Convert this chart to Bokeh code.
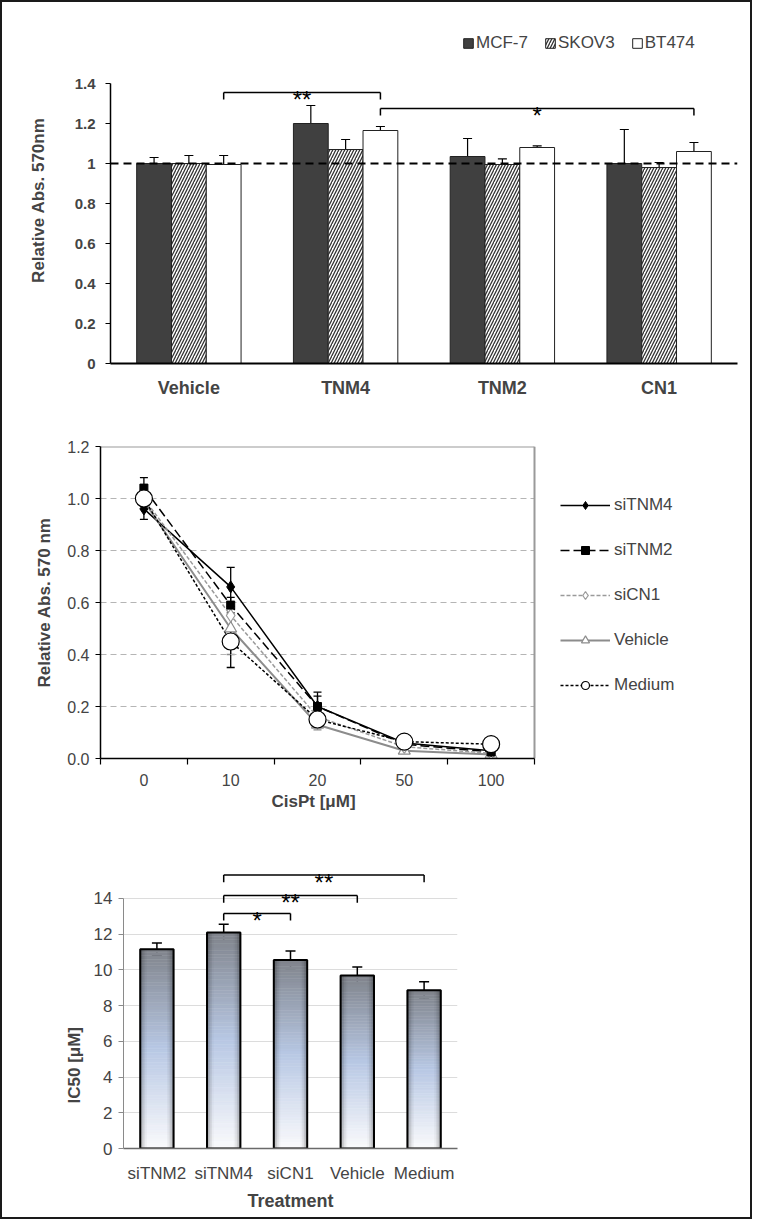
from bokeh.plotting import figure
from bokeh.models import (ColumnDataSource, FactorRange, Range1d, FixedTicker, Whisker, TeeHead,
                          Span, Label, Legend, LegendItem, NumeralTickFormatter, CustomJSTickFormatter, Title)
from bokeh.transform import dodge
from bokeh.embed import file_html
from bokeh.resources import INLINE
from bokeh.core.properties import value

FONT = "Liberation Sans"

# ---------------- Panel A data ----------------
a_groups = ["Vehicle", "TNM4", "TNM2", "CN1"]
a_series = ["MCF-7", "SKOV3", "BT474"]
a_mcf7 = [1.00, 1.20, 1.035, 1.00]
a_mcf7_err = [0.03, 0.09, 0.09, 0.17]
a_skov3 = [1.00, 1.07, 0.995, 0.98]
a_skov3_err = [0.04, 0.05, 0.028, 0.025]
a_bt474 = [0.995, 1.165, 1.08, 1.06]
a_bt474_err = [0.045, 0.02, 0.008, 0.045]
a_yticks = [0, 0.2, 0.4, 0.6, 0.8, 1.0, 1.2, 1.4]
a_sig_from = ["Vehicle", "TNM4"]
a_sig_to = ["TNM4", "CN1"]
a_sig_height = [1.355, 1.275]
a_sig_text = ["**", "*"]

# ---------------- Panel B data ----------------
b_conc = ["0", "10", "20", "50", "100"]
b_series = ["siTNM4", "siTNM2", "siCN1", "Vehicle", "Medium"]
b_sitnm4 = [0.96, 0.66, 0.20, 0.06, 0.03]
b_sitnm4_err = [0.04, 0.075, 0.055, 0.01, 0.01]
b_sitnm2 = [1.04, 0.59, 0.20, 0.055, 0.025]
b_sitnm2_err = [0.04, 0.03, 0.04, 0.01, 0.01]
b_sicn1 = [1.00, 0.55, 0.16, 0.045, 0.02]
b_sicn1_err = [0.03, 0.05, 0.03, 0.01, 0.01]
b_vehicle = [0.99, 0.50, 0.13, 0.03, 0.015]
b_vehicle_err = [0.03, 0.10, 0.02, 0.01, 0.01]
b_medium = [1.00, 0.45, 0.15, 0.065, 0.055]
b_medium_err = [0.03, 0.10, 0.03, 0.01, 0.01]
b_yticks = [0, 0.2, 0.4, 0.6, 0.8, 1.0, 1.2]

# ---------------- Panel C data ----------------
c_treat = ["siTNM2", "siTNM4", "siCN1", "Vehicle", "Medium"]
c_ic50 = [11.15, 12.08, 10.55, 9.68, 8.85]
c_err = [0.35, 0.47, 0.50, 0.47, 0.48]
c_yticks = [0, 2, 4, 6, 8, 10, 12, 14]
c_sig_from = ["siTNM4", "siTNM4", "siTNM4"]
c_sig_to = ["siCN1", "Vehicle", "Medium"]
c_sig_height = [13.15, 14.15, 15.3]
c_sig_text = ["*", "**", "**"]

W = 752
BORDER = "2px solid #1a1a1a"


def style_common(p):
    p.xgrid.visible = False
    p.ygrid.visible = False
    p.outline_line_color = None
    p.background_fill_color = "white"
    p.border_fill_color = "white"


# =============== Panel A ===============
pA = figure(width=W, height=400, x_range=FactorRange(*a_groups), y_range=Range1d(0, 1.68),
            output_backend="svg", toolbar_location=None,
            min_border_left=108, min_border_right=17, min_border_top=25, min_border_bottom=39,
            styles={"border-left": BORDER, "border-right": BORDER, "border-top": BORDER})
style_common(pA)

srcA = ColumnDataSource(dict(
    grp=a_groups,
    mcf7=a_mcf7, mcf7_up=[v + e for v, e in zip(a_mcf7, a_mcf7_err)], mcf7_lo=[v - e for v, e in zip(a_mcf7, a_mcf7_err)],
    skov3=a_skov3, skov3_up=[v + e for v, e in zip(a_skov3, a_skov3_err)], skov3_lo=[v - e for v, e in zip(a_skov3, a_skov3_err)],
    bt474=a_bt474, bt474_up=[v + e for v, e in zip(a_bt474, a_bt474_err)], bt474_lo=[v - e for v, e in zip(a_bt474, a_bt474_err)],
))
OFF = 0.222
bw = 0.222
rA1 = pA.vbar(x=dodge("grp", -OFF, range=pA.x_range), top="mcf7", width=bw, source=srcA,
              fill_color="#404040", line_color="#222222", line_width=1)
rA2 = pA.vbar(x=dodge("grp", 0, range=pA.x_range), top="skov3", width=bw, source=srcA,
              fill_color="white", hatch_pattern="/", hatch_color="#333333", hatch_scale=6, hatch_weight=1.3,
              line_color="#222222", line_width=1)
rA3 = pA.vbar(x=dodge("grp", OFF, range=pA.x_range), top="bt474", width=bw, source=srcA,
              fill_color="white", line_color="#222222", line_width=1)
for off, key in [(-OFF, "mcf7"), (0, "skov3"), (OFF, "bt474")]:
    pA.add_layout(Whisker(source=srcA, base=dodge("grp", off, range=pA.x_range),
                          upper=key + "_up", lower=key + "_lo", line_color="black", line_width=1.2,
                          upper_head=TeeHead(size=9, line_color="black", line_width=1.2),
                          lower_head=TeeHead(size=9, line_color="black", line_width=1.2)))

pA.add_layout(Span(location=1.0, dimension="width", line_color="black", line_width=2, line_dash="8 5"))

# significance brackets (ends at BT474 bars)
ax0 = [a_groups.index(g) + 0.5 + OFF for g in a_sig_from]
ax1 = [a_groups.index(g) + 0.5 + OFF for g in a_sig_to]
ah = a_sig_height
ahl = [h - 0.035 for h in ah]
pA.segment(x0=ax0, y0=ah, x1=ax1, y1=ah, line_color="black", line_width=1.5)
pA.segment(x0=ax0, y0=ah, x1=ax0, y1=ahl, line_color="black", line_width=1.5)
pA.segment(x0=ax1, y0=ah, x1=ax1, y1=ahl, line_color="black", line_width=1.5)
pA.text(x=[(a + b) / 2 for a, b in zip(ax0, ax1)], y=ah, text=a_sig_text, text_font=value(FONT),
        text_font_size="24px", text_align="center", text_baseline="alphabetic", y_offset=7)

legA = Legend(items=[LegendItem(label=a_series[0], renderers=[rA1]),
                     LegendItem(label=a_series[1], renderers=[rA2]),
                     LegendItem(label=a_series[2], renderers=[rA3])],
              orientation="horizontal", location=(352, 310), padding=0, margin=0,
              glyph_width=12, glyph_height=12, label_standoff=2, spacing=16,
              label_text_font=FONT, label_text_font_size="17px", label_height=20,
              border_line_color=None, background_fill_alpha=0)
pA.add_layout(legA)

pA.yaxis.ticker = FixedTicker(ticks=a_yticks)
pA.yaxis.formatter = NumeralTickFormatter(format="0.[0]")
pA.yaxis.bounds = (0, 1.4)
pA.yaxis.axis_line_width = 1.5
pA.yaxis.major_tick_out = 5
pA.yaxis.major_tick_in = 0
pA.yaxis.minor_tick_line_color = None
pA.yaxis.major_label_text_font = FONT
pA.yaxis.major_label_text_font_style = "bold"
pA.yaxis.major_label_text_font_size = "15px"
pA.yaxis.major_label_standoff = 10
pA.yaxis.axis_label = "Relative  Abs.  570nm"
pA.yaxis.axis_label_text_font = FONT
pA.yaxis.axis_label_text_font_style = "bold"
pA.yaxis.axis_label_text_font_size = "17px"
pA.yaxis.axis_label_standoff = 24

pA.xaxis.axis_line_width = 2
pA.xaxis.major_tick_line_color = None
pA.xaxis.major_label_text_font = FONT
pA.xaxis.major_label_text_font_style = "bold"
pA.xaxis.major_label_text_font_size = "18px"
pA.xaxis.major_label_standoff = 8

pA.add_layout(Label(x=-81, y=338, x_units="screen", y_units="screen", text="A", text_font=FONT,
                    text_font_style="bold", text_font_size="25px", text_align="center", text_baseline="middle"))

# =============== Panel B ===============
B_LEFT, B_RIGHT, B_PLOT_W = 98, 6, 434          # px: left border, right border, data-area width
n_b = len(b_conc)
b_xend = n_b * (W - B_LEFT - B_RIGHT) / B_PLOT_W  # frame extended to the right to hold the legend
pB = figure(width=W, height=432, x_range=Range1d(0, b_xend), y_range=Range1d(0, 1.2),
            output_backend="svg", toolbar_location=None,
            min_border_left=B_LEFT, min_border_right=B_RIGHT, min_border_top=46, min_border_bottom=74,
            styles={"border-left": BORDER, "border-right": BORDER})
style_common(pB)

b_x = [i + 0.5 for i in range(n_b)]

# dashed horizontal gridlines limited to the data area
b_grid = b_yticks[1:-1]
pB.segment(x0=[0] * len(b_grid), y0=b_grid, x1=[n_b] * len(b_grid), y1=b_grid,
           line_color="#b5b5b5", line_dash="6 4", line_width=1.2)
# plot-area box (top and right edges) like the reference
pB.segment(x0=[0, n_b], y0=[b_yticks[-1], 0], x1=[n_b, n_b], y1=[b_yticks[-1], b_yticks[-1]],
           line_color="#9a9a9a", line_width=2)

series_b = [
    ("siTNM4", b_sitnm4, b_sitnm4_err, dict(line_color="black", line_width=1.5),
     dict(marker="diamond", size=12, fill_color="black", line_color="black"), "black"),
    ("siTNM2", b_sitnm2, b_sitnm2_err, dict(line_color="black", line_width=1.5, line_dash="9 4"),
     dict(marker="square", size=8, fill_color="black", line_color="black"), "black"),
    ("siCN1", b_sicn1, b_sicn1_err, dict(line_color="#9a9a9a", line_width=1.5, line_dash="4 2"),
     dict(marker="diamond", size=13, fill_color="white", line_color="#9a9a9a", line_width=1.2), "#9a9a9a"),
    ("Vehicle", b_vehicle, b_vehicle_err, dict(line_color="#8c8c8c", line_width=2),
     dict(marker="triangle", size=12, fill_color="white", line_color="#8c8c8c", line_width=1.2), "#8c8c8c"),
    ("Medium", b_medium, b_medium_err, dict(line_color="black", line_width=1.5, line_dash="3 2"),
     dict(marker="circle", size=17, fill_color="white", line_color="black", line_width=1.2), "black"),
]

line_rs = {}
for name, vals, errs, lkw, mkw, ecol in series_b:
    src = ColumnDataSource(dict(x=b_x, y=vals, up=[v + e for v, e in zip(vals, errs)],
                                lo=[v - e for v, e in zip(vals, errs)]))
    lr = pB.line("x", "y", source=src, **lkw)
    pB.add_layout(Whisker(source=src, base="x", upper="up", lower="lo", line_color=ecol, line_width=1.3,
                          upper_head=TeeHead(size=8, line_color=ecol, line_width=1.3),
                          lower_head=TeeHead(size=8, line_color=ecol, line_width=1.3)))
    line_rs[name] = (lr, src, mkw)

marker_rs = {}
for name in ["Vehicle", "siCN1", "siTNM2", "siTNM4", "Medium"]:
    lr, src, mkw = line_rs[name]
    marker_rs[name] = pB.scatter("x", "y", source=src, **mkw)

legB = Legend(items=[LegendItem(label=n, renderers=[line_rs[n][0], marker_rs[n]]) for n in b_series],
              location=(B_PLOT_W + 26, 63), padding=0, margin=0, glyph_width=50, glyph_height=20,
              label_height=20, spacing=25, label_standoff=4,
              label_text_font=FONT, label_text_font_size="17px",
              border_line_color=None, background_fill_alpha=0)
pB.add_layout(legB)

pB.xaxis.ticker = FixedTicker(ticks=b_x, minor_ticks=list(range(n_b + 1)))
pB.xaxis.formatter = CustomJSTickFormatter(args=dict(labels=b_conc),
                                           code="return labels[Math.floor(tick)];")
pB.xaxis.bounds = (0, n_b)
pB.xaxis.major_tick_line_color = None
pB.xaxis.major_tick_out = 6
pB.xaxis.minor_tick_out = 6
pB.xaxis.minor_tick_in = 0
pB.xaxis.minor_tick_line_color = "black"
pB.xaxis.minor_tick_line_width = 1.2
pB.xaxis.axis_line_width = 1.5
pB.xaxis.major_label_text_font = FONT
pB.xaxis.major_label_text_font_size = "16px"
pB.xaxis.major_label_standoff = 9

# x-axis title, centred under the data area (not under the extended frame)
pB.add_layout(Title(text="CisPt  [\u03bcM]", align="left", offset=B_PLOT_W / 2 - 46, standoff=2,
                    text_font=FONT, text_font_style="bold", text_font_size="17px"), "below")

pB.yaxis.ticker = FixedTicker(ticks=b_yticks)
pB.yaxis.formatter = NumeralTickFormatter(format="0.0")
pB.yaxis.axis_line_width = 1.5
pB.yaxis.major_tick_out = 5
pB.yaxis.major_tick_in = 0
pB.yaxis.minor_tick_line_color = None
pB.yaxis.major_label_text_font = FONT
pB.yaxis.major_label_text_font_size = "16px"
pB.yaxis.major_label_standoff = 6
pB.yaxis.axis_label = "Relative Abs. 570 nm"
pB.yaxis.axis_label_text_font = FONT
pB.yaxis.axis_label_text_font_style = "bold"
pB.yaxis.axis_label_text_font_size = "17px"
pB.yaxis.axis_label_standoff = 10

pB.add_layout(Label(x=-74, y=331, x_units="screen", y_units="screen", text="B", text_font=FONT,
                    text_font_style="bold", text_font_size="25px", text_align="center", text_baseline="middle"))

# =============== Panel C ===============
pC = figure(width=W, height=387, x_range=FactorRange(*c_treat), y_range=Range1d(0, 16),
            output_backend="svg", toolbar_location=None,
            min_border_left=121, min_border_right=297, min_border_top=30, min_border_bottom=71,
            styles={"border-left": BORDER, "border-right": BORDER, "border-bottom": BORDER})
style_common(pC)

pC.ygrid.visible = True
pC.ygrid.ticker = FixedTicker(ticks=c_yticks[1:])
pC.ygrid.grid_line_color = "#dcdcdc"
pC.ygrid.grid_line_width = 1


def mix(c1, c2, t):
    return "#%02x%02x%02x" % tuple(int(round(a + (b - a) * t)) for a, b in zip(c1, c2))


stops = [(0.0, (250, 250, 252)), (0.5, (184, 200, 228)), (1.0, (128, 132, 140))]


def grad(t):
    for (t0, c0), (t1, c1) in zip(stops[:-1], stops[1:]):
        if t <= t1:
            return mix(c0, c1, (t - t0) / (t1 - t0))
    return mix(stops[-2][1], stops[-1][1], 1.0)


CW = 0.5
NS = 60
gx, gb, gt, gc = [], [], [], []
for name, v in zip(c_treat, c_ic50):
    for k in range(NS):
        gx.append(name)
        gb.append(v * k / NS)
        gt.append(v * (k + 1) / NS)
        gc.append(grad((k + 0.5) / NS))
pC.vbar(x=gx, bottom=gb, top=gt, width=CW, fill_color=gc, line_color=gc, line_width=0.5)

# darker shading toward the bar edges (cylindrical look)
sx, stop_, sw, sa = [], [], [], []
edge_alpha = [0.30, 0.18, 0.09, 0.03]
strip = 0.025
for i, v in enumerate(c_ic50):
    for j, al in enumerate(edge_alpha):
        for side in (-1, 1):
            sx.append(i + 0.5 + side * (CW / 2 - strip / 2 - j * strip))
            stop_.append(v)
            sw.append(strip)
            sa.append(al)
pC.vbar(x=sx, top=stop_, width=sw, fill_color="black", fill_alpha=sa, line_color=None)

srcC = ColumnDataSource(dict(x=c_treat, top=c_ic50, up=[v + e for v, e in zip(c_ic50, c_err)],
                             lo=[v - e for v, e in zip(c_ic50, c_err)]))
pC.vbar(x="x", top="top", width=CW, source=srcC, fill_color=None, line_color="black", line_width=2)
pC.add_layout(Whisker(source=srcC, base="x", upper="up", lower="lo", line_color="black", line_width=1.5,
                      upper_head=TeeHead(size=10, line_color="black", line_width=1.5),
                      lower_head=TeeHead(size=10, line_color="black", line_width=1.5)))

cx0 = [c_treat.index(g) + 0.5 for g in c_sig_from]
cx1 = [c_treat.index(g) + 0.5 for g in c_sig_to]
ch = c_sig_height
chl = [h - 0.4 for h in ch]
pC.segment(x0=cx0, y0=ch, x1=cx1, y1=ch, line_color="black", line_width=1.5)
pC.segment(x0=cx0, y0=ch, x1=cx0, y1=chl, line_color="black", line_width=1.5)
pC.segment(x0=cx1, y0=ch, x1=cx1, y1=chl, line_color="black", line_width=1.5)
pC.text(x=[(a + b) / 2 for a, b in zip(cx0, cx1)], y=ch, text=c_sig_text, text_font=value(FONT),
        text_font_size="24px", text_align="center", text_baseline="alphabetic", y_offset=7)

pC.yaxis.ticker = FixedTicker(ticks=c_yticks)
pC.yaxis.bounds = (0, 14)
pC.yaxis.axis_line_color = "#8a8a8a"
pC.yaxis.major_tick_line_color = "#8a8a8a"
pC.yaxis.major_tick_out = 5
pC.yaxis.major_tick_in = 0
pC.yaxis.minor_tick_line_color = None
pC.yaxis.major_label_text_font = FONT
pC.yaxis.major_label_text_font_size = "17px"
pC.yaxis.major_label_standoff = 6

# y-axis title placed on the lower part of the axis like the reference
pC.add_layout(Title(text="IC50  [\u03bcM]", align="left", offset=45, standoff=14,
                    text_font=FONT, text_font_style="bold", text_font_size="17px"), "left")

pC.xaxis.axis_line_color = "#6a6a6a"
pC.xaxis.axis_line_width = 1.5
pC.xaxis.major_tick_line_color = None
pC.xaxis.major_label_text_font = FONT
pC.xaxis.major_label_text_font_size = "17px"
pC.xaxis.major_label_standoff = 9
pC.xaxis.axis_label = "Treatment"
pC.xaxis.axis_label_text_font = FONT
pC.xaxis.axis_label_text_font_style = "bold"
pC.xaxis.axis_label_text_font_size = "18px"
pC.xaxis.axis_label_standoff = 5

pC.add_layout(Label(x=-97, y=285, x_units="screen", y_units="screen", text="C", text_font=FONT,
                    text_font_style="bold", text_font_size="25px", text_align="center", text_baseline="middle"))

open("out.html", "w").write(file_html([pA, pB, pC], INLINE))
